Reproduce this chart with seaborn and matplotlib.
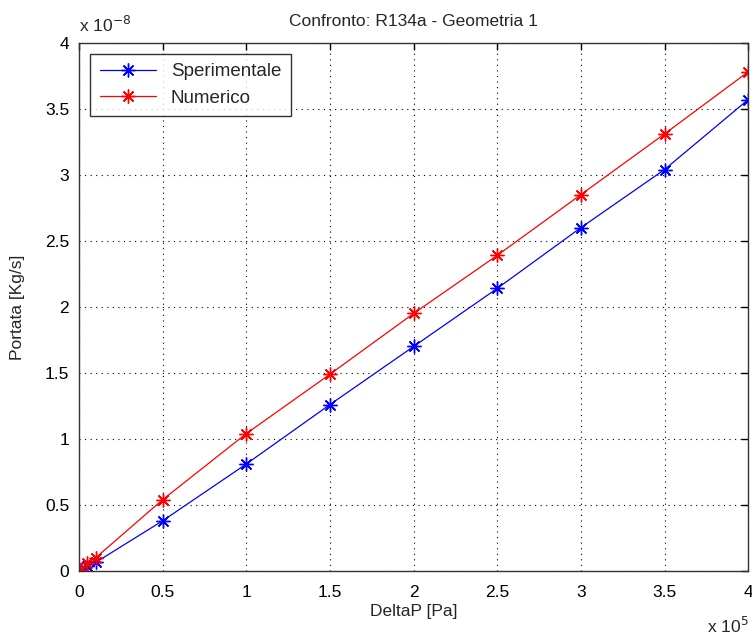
import numpy as np
import pandas as pd
import seaborn as sns
import matplotlib.pyplot as plt
from matplotlib.ticker import FuncFormatter

# valori
deltap = [0, 1000, 5000, 10000, 50000, 100000, 150000, 200000, 250000, 300000, 350000, 400000]
sperimentale = [0.0, 0.005e-8, 0.035e-8, 0.065e-8, 0.38e-8, 0.81e-8, 1.26e-8, 1.70e-8, 2.14e-8, 2.60e-8, 3.04e-8, 3.57e-8]
numerico = [0.0, 0.01e-8, 0.06e-8, 0.10e-8, 0.54e-8, 1.04e-8, 1.49e-8, 1.95e-8, 2.39e-8, 2.85e-8, 3.31e-8, 3.78e-8]
serie = ['Sperimentale', 'Numerico']
colori = ['blue', 'red']

sns.set_style('white')
plt.rcParams['font.family'] = ['Liberation Sans', 'DejaVu Sans']
plt.rcParams['font.size'] = 12.5

fig = plt.figure(figsize=(7.52, 6.38), dpi=100)
ax = fig.add_axes([0.105, 0.105, 0.89, 0.828])

asterisco = (8, 2, 0)
for nome, valori, col in zip(serie, [sperimentale, numerico], colori):
    sns.lineplot(x=deltap, y=valori, color=col, label=nome, marker=asterisco,
                 markersize=10, markeredgewidth=1.0, markeredgecolor=col,
                 linewidth=0.9, ax=ax)

ax.set_xlim(0, 4e5)
ax.set_ylim(0, 4e-8)
ax.set_xticks(np.arange(0, 4.01e5, 0.5e5))
ax.set_yticks(np.arange(0, 4.01e-8, 0.5e-8))
ax.xaxis.set_major_formatter(FuncFormatter(lambda v, p: f'{v / 1e5:g}'))
ax.yaxis.set_major_formatter(FuncFormatter(lambda v, p: f'{v / 1e-8:g}'))
ax.tick_params(direction='in', length=5, width=1, colors='black', labelsize=12.5,
               top=True, right=True, pad=7)
ax.tick_params(axis='x', pad=10)
ax.grid(True, linestyle=(0, (1, 4)), color='black', linewidth=0.8)
for s in ax.spines.values():
    s.set_color('#333333')
    s.set_linewidth(1)

ax.set_xlabel('DeltaP [Pa]', fontsize=12.5, labelpad=3)
ax.set_ylabel('Portata [Kg/s]', fontsize=12.5, labelpad=14)
ax.set_title('Confronto: R134a - Geometria 1', fontsize=12.5, pad=12)

ax.text(0.0, 1.015, r'x 10$^{-8}$', transform=ax.transAxes, fontsize=12.5, va='bottom', ha='left')
ax.text(1.0, -0.085, r'x 10$^{5}$', transform=ax.transAxes, fontsize=12.5, va='top', ha='right')

leg = ax.legend(loc='upper left', fontsize=13.5, frameon=True, fancybox=False,
                edgecolor='black', borderaxespad=0.6, handlelength=3.0,
                borderpad=0.5, labelspacing=0.5)
leg.get_frame().set_linewidth(1)

fig.savefig('out.png', dpi=100)
